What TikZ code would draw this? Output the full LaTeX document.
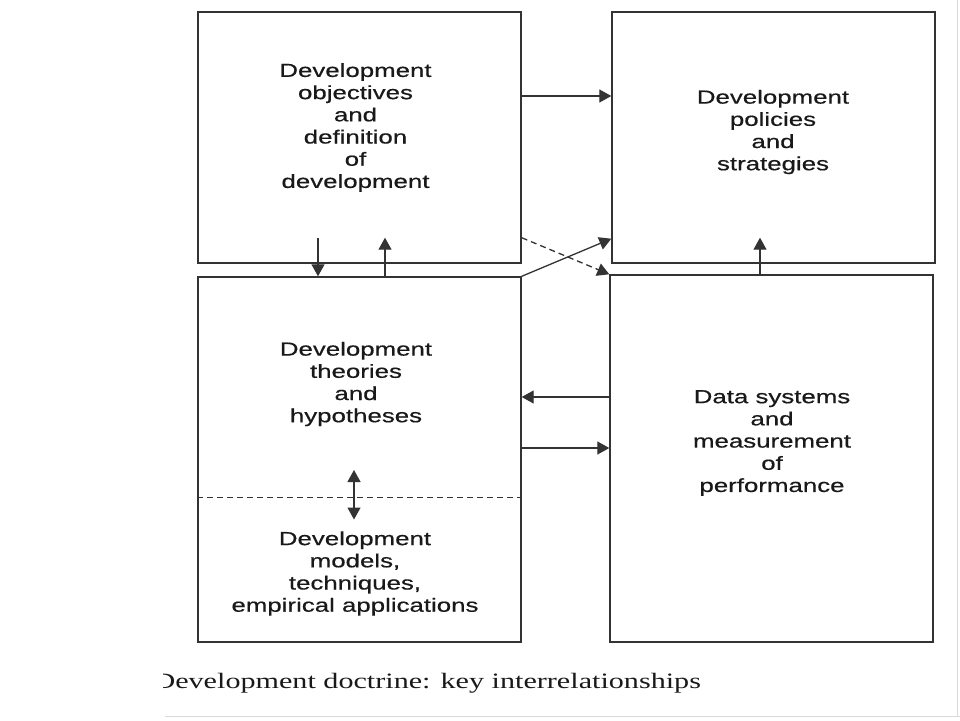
\documentclass[tikz,border=0pt]{standalone}
\usepackage{fontspec}
\setmainfont{Liberation Sans}[FakeStretch=1.36,FakeBold=0.5]
\newfontfamily\capfont{Liberation Serif}[FakeStretch=1.37]
\usetikzlibrary{arrows.meta}
\begin{document}
\begin{tikzpicture}[x=1pt,y=-1pt,>={Triangle[length=12pt,width=13pt]},
        box/.style={draw=black!80,line width=1.4pt,minimum width=323pt,inner sep=0pt},
        txt/.style={align=center,text=black!90,font=\fontsize{19}{22.2}\selectfont},
        conn/.style={draw=black!80,line width=1.3pt},
        dsh/.style={conn,dash pattern=on 6pt off 4pt}]
        \useasboundingbox (0,0) rectangle (960,720);
        % edges of the scanned page
        \draw[black!15,line width=1pt] (165,716.5)--(960,716.5) (957.5,0)--(957.5,716.5);
        \foreach \n/\x/\y/\h in {obj/359.5/137.5/251,pol/773.5/137.5/251,the/359.5/459.5/365,dat/771.5/458.5/367}
        \node[box,minimum height=\h pt] (\n) at (\x,\y) {};
        \node[txt] (tobj) at (355.5,127.5) {Development\\objectives\\and\\definition\\of\\development};
        \node[txt] (tpol) at (773,132) {Development\\policies\\and\\strategies};
        \node[txt] (tthe) at (356,384) {Development\\theories\\and\\hypotheses};
        \node[txt] (tmod) at (355,573.5) {Development\\models,\\techniques,\\empirical applications};
        \node[txt] (tdat) at (772,443) {Data systems\\and\\measurement\\of\\performance};
        \draw[dsh] ([yshift=-38pt]the.west) -- ([yshift=-38pt]the.east);
        \draw[conn,<->] ([xshift=-5.5pt,yshift=-10.5pt]the.center) -- ([xshift=-5.5pt,yshift=-60pt]the.center);
        \draw[conn,->] ([yshift=41.5pt]obj.east) coordinate (o1) -- (o1 -| pol.west);
        \draw[conn,->] ([xshift=-41.5pt,yshift=26pt]obj.south) -- ([xshift=-41.5pt]the.north);
        \draw[conn,->] ([xshift=25.5pt]the.north) -- ([xshift=25.5pt,yshift=26pt]obj.south);
        \draw[conn,->] ([xshift=-11.5pt]dat.north) -- ([xshift=-13.5pt,yshift=26pt]pol.south);
        \draw[dsh,->] ([yshift=26pt]obj.south east) -- (dat.north west);
        \draw[conn,->] (the.north east) -- ([yshift=25pt]pol.south west);
        \draw[conn,->] ([yshift=61.5pt]dat.west) coordinate (d1) -- (d1 -| the.east);
        \draw[conn,->] ([yshift=11.5pt]the.east) coordinate (t1) -- (t1 -| dat.west);
        \begin{scope}
            \clip (163,650) rectangle (960,710);
            \node[anchor=base west,text=black!90,font=\capfont\fontsize{22}{26}\selectfont] (cap) at (150,688)
            {Development doctrine: key interrelationships};
        \end{scope}
\end{tikzpicture}
\end{document}
